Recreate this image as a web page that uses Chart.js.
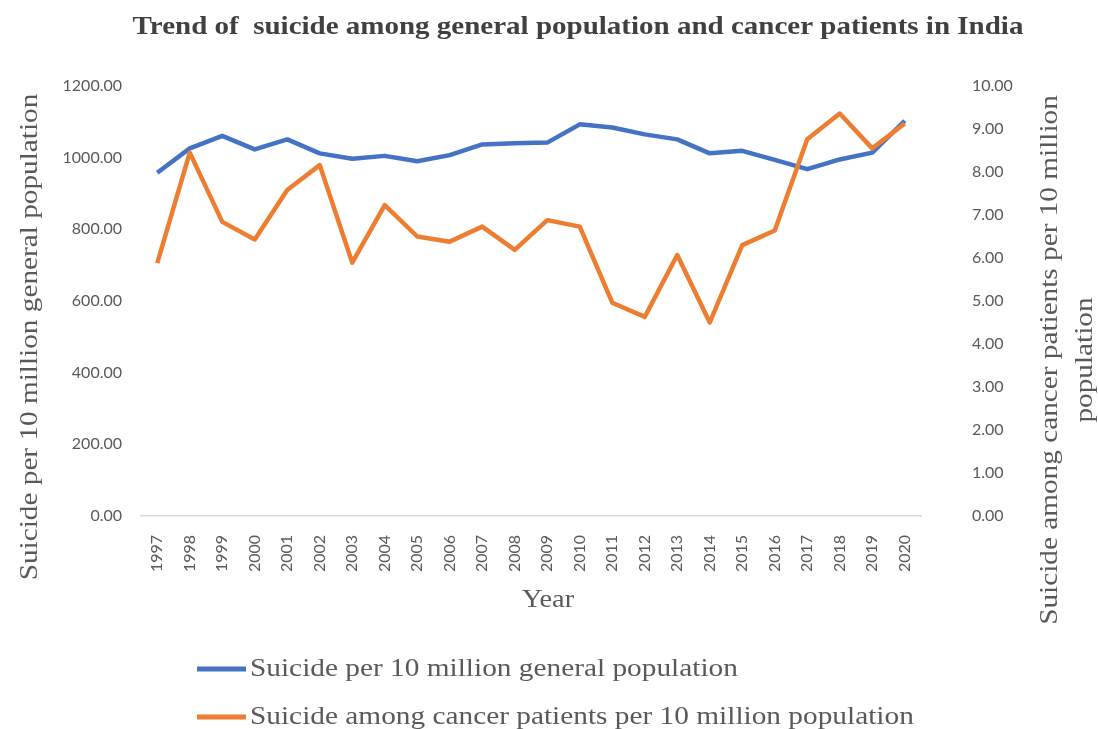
<!DOCTYPE html>
<html>
<head>
<meta charset="utf-8">
<script src="https://cdn.jsdelivr.net/npm/chart.js@4.4.0/dist/chart.umd.min.js"></script>
<style>
  html, body { margin: 0; padding: 0; background: #fff; }
  #wrap { width: 1098px; height: 729px; position: relative; }
</style>
</head>
<body>
<div id="wrap"><canvas id="chart" width="1098" height="729"></canvas></div>
<script>
// data
const years = ['1997', '1998', '1999', '2000', '2001', '2002', '2003', '2004', '2005', '2006', '2007', '2008',
  '2009', '2010', '2011', '2012', '2013', '2014', '2015', '2016', '2017', '2018', '2019', '2020'];
const generalRate = [958, 1026, 1061, 1023, 1051, 1012, 997, 1005, 990, 1007, 1037, 1040,
  1042, 1093, 1084, 1065, 1051, 1012, 1019, 994, 968, 995, 1014, 1103];
const cancerRate = [5.88, 8.45, 6.84, 6.43, 7.58, 8.16, 5.89, 7.23, 6.50, 6.38, 6.73, 6.19,
  6.88, 6.73, 4.96, 4.63, 6.07, 4.50, 6.30, 6.64, 8.76, 9.36, 8.55, 9.13];

const seriesNames = ['Suicide per 10 million general population',
  'Suicide among cancer patients per 10 million population'];
const chartTitle = 'Trend of  suicide among general population and cancer patients in India';
const xTitle = 'Year';
const leftTitle = 'Suicide per 10 million general population';
const rightTitle = ['Suicide among cancer patients per 10 million', 'population'];

const BLUE = '#4472C4';
const ORANGE = '#ED7D31';
const TEXT = '#595959';
const SERIF = '"Liberation Serif", "Times New Roman", serif';
const TICK_FONT = { family: 'Lato, "Liberation Sans", sans-serif', size: 16 };

// the source image is a bit wider than tall, so serif text gets stretched sideways
function wideText(ctx, text, x, y, sx, angle) {
  ctx.save();
  ctx.translate(x, y);
  if (angle) ctx.rotate(angle);
  ctx.scale(sx, 1);
  ctx.fillText(text, 0, 0);
  ctx.restore();
}

// titles and legend are drawn by hand so they can sit where Excel put them
const decorations = {
  id: 'decorations',
  afterDraw(chart) {
    const ctx = chart.ctx;
    ctx.save();

    ctx.fillStyle = '#404040';
    ctx.font = 'bold 25px ' + SERIF;
    ctx.textAlign = 'center';
    ctx.textBaseline = 'middle';
    wideText(ctx, chartTitle, 578, 28, 1.16);

    ctx.fillStyle = TEXT;
    ctx.font = '26px ' + SERIF;
    wideText(ctx, xTitle, 548, 600, 1.09);
    wideText(ctx, leftTitle, 30, 337, 1.125, -Math.PI / 2);
    wideText(ctx, rightTitle[0], 1050, 360, 1.125, -Math.PI / 2);
    wideText(ctx, rightTitle[1], 1085, 360, 1.125, -Math.PI / 2);

    // legend, two left-aligned rows
    const rows = [669, 717];
    chart.data.datasets.forEach((ds, i) => {
      const y = rows[i];
      ctx.strokeStyle = ds.borderColor;
      ctx.lineWidth = 5;
      ctx.beginPath();
      ctx.moveTo(197, y);
      ctx.lineTo(246, y);
      ctx.stroke();
      ctx.fillStyle = TEXT;
      ctx.textAlign = 'left';
      wideText(ctx, ds.label, 250, y, 1.128);
    });
    ctx.restore();
  }
};

new Chart(document.getElementById('chart'), {
  type: 'line',
  data: {
    labels: years,
    datasets: [
      {
        label: seriesNames[0],
        data: generalRate,
        yAxisID: 'y',
        borderColor: BLUE,
        backgroundColor: BLUE,
        borderWidth: 4.5,
        pointRadius: 0,
        tension: 0,
        borderJoinStyle: 'round',
        order: 1
      },
      {
        label: seriesNames[1],
        data: cancerRate,
        yAxisID: 'y1',
        borderColor: ORANGE,
        backgroundColor: ORANGE,
        borderWidth: 4.5,
        pointRadius: 0,
        tension: 0,
        borderJoinStyle: 'round',
        order: 0
      }
    ]
  },
  options: {
    responsive: false,
    animation: false,
    layout: { padding: { top: 86, bottom: 110, left: 0, right: 0 } },
    plugins: {
      legend: { display: false },
      title: { display: false },
      tooltip: { enabled: false }
    },
    scales: {
      x: {
        offset: true,
        grid: { display: false },
        border: { display: true, color: '#d9d9d9', width: 1.5 },
        ticks: { color: TEXT, font: TICK_FONT, minRotation: 90, maxRotation: 90, padding: 11, autoSkip: false },
        afterFit(scale) { scale.height = 103; }
      },
      y: {
        position: 'left',
        min: 0,
        max: 1200,
        grid: { display: false },
        border: { display: false },
        ticks: { stepSize: 200, color: TEXT, font: TICK_FONT, padding: 11,
          callback: v => Number(v).toFixed(2) },
        afterFit(scale) { scale.width = 141; }
      },
      y1: {
        position: 'right',
        min: 0,
        max: 10,
        grid: { display: false },
        border: { display: false },
        ticks: { stepSize: 1, color: TEXT, font: TICK_FONT, padding: 43,
          callback: v => Number(v).toFixed(2) },
        afterFit(scale) { scale.width = 177; }
      }
    }
  },
  plugins: [decorations]
});
</script>
</body>
</html>
